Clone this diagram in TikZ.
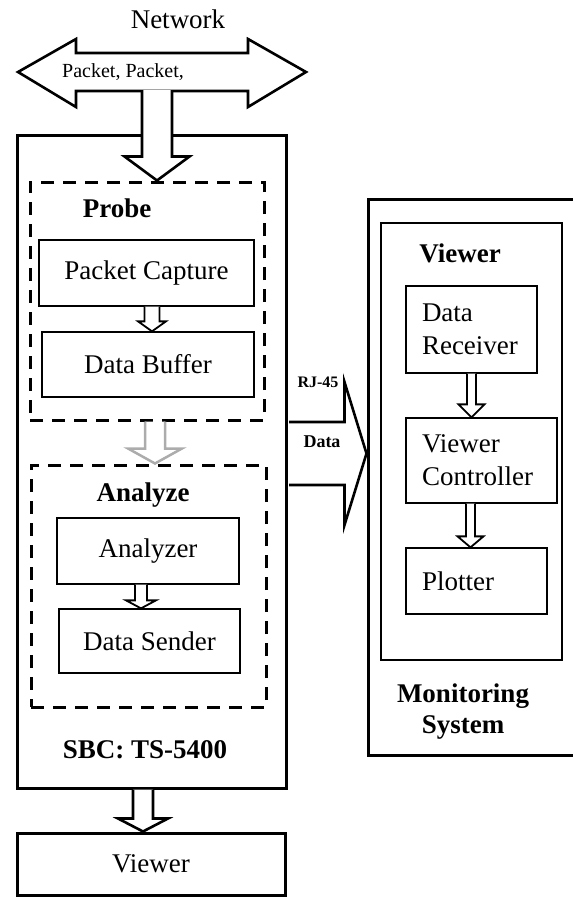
\documentclass[tikz,border=0pt]{standalone}
\usepackage{fontspec}
\setmainfont{Liberation Serif}
\usetikzlibrary{calc}

% hollow block arrow pointing down: [style]{from}{to}{shaft half}{head half}{head length}
\newcommand{\dnarrow}[6][]{%
  \draw[#1] let \p1=#2, \p2=#3 in
    (\x1-#4,\y1) -- (\x1-#4,\y2+#6) -- (\x1-#5,\y2+#6) -- (\x1,\y2)
    -- (\x1+#5,\y2+#6) -- (\x1+#4,\y2+#6) -- (\x1+#4,\y1);}

\begin{document}
\begin{tikzpicture}[x=1pt,y=-1pt,font=\fontsize{27}{33}\selectfont,
 bigbox/.style={draw,line width=3pt,inner sep=0pt},
 dbox/.style={draw,line width=3pt,dash pattern=on 13pt off 9pt,inner sep=0pt},
 blk/.style={draw,line width=1.3pt,inner sep=0pt},
 lft/.style={blk,inner xsep=16pt,align=left,text width=#1},
 lbl/.style={font=\fontsize{27}{31}\selectfont\bfseries},
 barrow/.style={draw,line width=2.6pt,fill=white},
 sarrow/.style={draw,line width=1.8pt,fill=white},
 garrow/.style={draw=gray!65,line width=2.5pt,fill=white}]
\useasboundingbox (0,0) rectangle (573,897);

% network
\node (net) at (178,19) {Network};
\draw[barrow] (18,72) -- (76,39) -- (76,53) -- (248,53) -- (248,39) -- (306,72)
  -- (248,107) -- (248,91) -- (76,91) -- (76,107) -- cycle;
\node[font=\fontsize{20}{24}\selectfont] (pkt) at (123,72) {Packet, Packet,};
\coordinate (netc) at (157,90);

% SBC side
\node[bigbox,minimum width=269pt,minimum height=653pt] (sbc) at (151.5,461.5) {};
\node[lbl] (sbclbl) at (145,750) {SBC: TS-5400};
\node[dbox,minimum width=234pt,minimum height=238pt] (probe) at (147,301) {};
\node[lbl] (probelbl) at (117,208) {Probe};
\node[blk,minimum width=215pt,minimum height=66pt] (cap) at (146.5,273) {Packet Capture};
\node[blk,minimum width=212pt,minimum height=65pt] (buf) at (148,364.5) {Data Buffer};
\node[dbox,minimum width=235pt,minimum height=242pt] (anl) at (148.5,586) {};
\node[lbl] (anllbl) at (143,495) {Analyze};
\node[blk,minimum width=182pt,minimum height=66pt] (anz) at (148,551) {Analyzer};
\node[blk,minimum width=181pt,minimum height=64pt] (snd) at (149.5,641) {Data Sender};
\node[bigbox,minimum width=268pt,minimum height=62pt] (vw) at (151,864) {Viewer};

% monitoring side
\node[bigbox,minimum width=208pt,minimum height=556pt] (mon) at (472,477) {};
\node[lbl,align=center] (monlbl) at (463,712) {Monitoring\\System};
\node[blk,minimum width=181pt,minimum height=437pt] (vwr) at (471.5,441.5) {};
\node[lbl] (vwrlbl) at (460,253) {Viewer};
\node[lft=99pt,minimum height=87pt] (rcv) at (471.5,329.5) {Data\\Receiver};
\node[lft=119pt,minimum height=85pt] (ctl) at (481.5,460.5) {Viewer\\Controller};
\node[lft=109pt,minimum height=66pt] (plt) at (476.5,581) {Plotter};

% arrows
\dnarrow[barrow]{(netc)}{(probe.north)}{15pt}{32.5pt}{24pt}
\dnarrow[sarrow]{($(cap.south)+(5.5,0)$)}{(buf.north)}{7.5pt}{14pt}{10pt}
\dnarrow[garrow]{($(probe.south)+(8,0)$)}{(anl.north)}{10pt}{27pt}{15pt}
\dnarrow[sarrow]{($(anz.south)+(-7,0)$)}{(snd.north)}{6pt}{15pt}{8pt}
\dnarrow[barrow]{($(sbc.south)+(-8.5,0)$)}{(vw.north)}{10pt}{25pt}{13pt}
\dnarrow[sarrow]{(rcv.south)}{(ctl.north)}{4.5pt}{13pt}{13pt}
\dnarrow[sarrow]{($(ctl.south)+(-11,0)$)}{(plt.north)}{4.5pt}{13pt}{11pt}
\draw[barrow] let \p1=($(sbc.east)+(0,-8)$), \p2=(mon.west) in
  (\x1+1.5pt,\y1+31.5pt) -- (\x2-22pt,\y1+31.5pt) -- (\x2-22pt,\y1+71.5pt) -- (\x2,\y1)
  -- (\x2-22pt,\y1-71.5pt) -- (\x2-22pt,\y1-31.5pt) -- (\x1+1.5pt,\y1-31.5pt);
\node[font=\fontsize{16}{18}\selectfont\bfseries] (rj) at (318,382) {RJ-45};
\node[font=\fontsize{18}{20}\selectfont\bfseries] (dat) at (322,442) {Data};
\end{tikzpicture}
\end{document}
